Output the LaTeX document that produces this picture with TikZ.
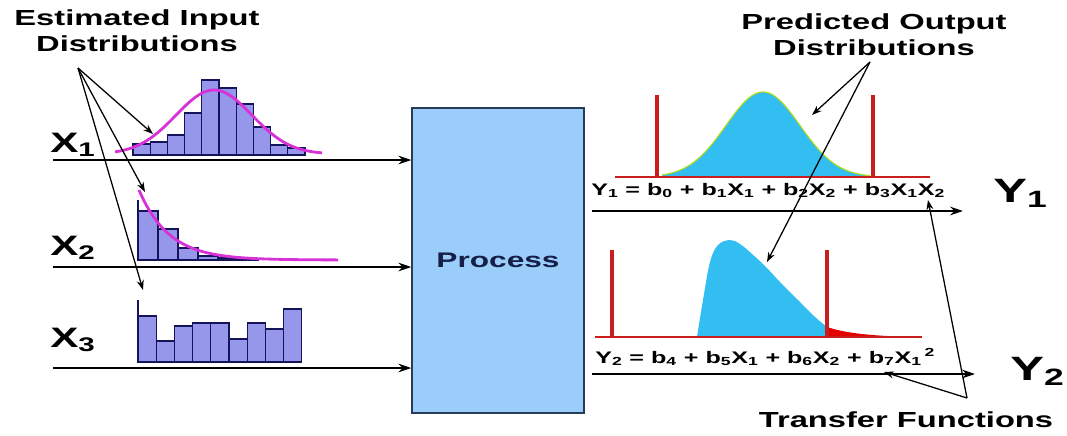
\documentclass[tikz,border=0pt]{standalone}
\usepackage{fontspec}
\newfontfamily\diagfont{Liberation Sans}[FakeStretch=1.5]
\usetikzlibrary{arrows.meta, positioning}
\definecolor{procfill}{RGB}{155,205,250}
\definecolor{procline}{RGB}{40,60,90}
\definecolor{proctext}{RGB}{20,30,70}
\definecolor{barfill}{RGB}{150,150,235}
\definecolor{barline}{RGB}{20,20,90}
\definecolor{curvemag}{RGB}{215,50,215}
\definecolor{outblue}{RGB}{50,190,240}
\definecolor{outred}{RGB}{200,30,30}
\tikzset{
    procbox/.style={
        rectangle,
        draw=procline,
        fill=procfill,
        line width=1pt,
        inner sep=0pt,
        text=proctext,
        font=\diagfont\bfseries\fontsize{15}{18}\selectfont
    },
    flow/.style={
        -{Stealth[length=9pt,width=6pt]},
        line width=1.8pt,
        draw=black
    },
    note/.style={
        -{Stealth[length=7pt,width=5pt]},
        line width=0.9pt,
        draw=black
    },
    bar/.style={
        draw=barline,
        fill=barfill,
        line width=0.9pt
    },
    heading/.style={
        font=\diagfont\bfseries\fontsize{15.5}{18.5}\selectfont,
        align=center,
        inner sep=0pt
    },
    varlabel/.style={
        font=\diagfont\bfseries\fontsize{20}{24}\selectfont,
        inner sep=0pt,
        anchor=base west
    },
    outlabel/.style={
        font=\diagfont\bfseries\fontsize{24}{28}\selectfont,
        inner sep=0pt,
        anchor=base west
    },
    eqn/.style={
        font=\diagfont\bfseries\fontsize{11.9}{14}\selectfont,
        inner sep=0pt,
        anchor=base west
    }
}

\begin{document}
\begin{tikzpicture}[x=0.025cm, y=-0.025cm]
    \useasboundingbox (0,0) rectangle (1067,435);

    % The process block
    \node[procbox, minimum width=4.3cm, minimum height=7.625cm] (process) at (498,260.5) {Process};

    % Input lines
    \coordinate (in1) at (53,160);
    \coordinate (in2) at (53,267);
    \coordinate (in3) at (53,368);
    \foreach \k in {1,2,3} {
        \draw[flow] (in\k) -- (process.west |- in\k);
    }
    \node[varlabel] (x1) at (50,152) {X\textsubscript{1}};
    \node[varlabel] (x2) at (50,255) {X\textsubscript{2}};
    \node[varlabel] (x3) at (50,347) {X\textsubscript{3}};

    % Histogram of X1 with fitted normal curve
    \foreach \h [count=\i from 0] in {11,13,20,42,75,67,51,28,10,7} {
        \draw[bar] ({133+17.2*\i},155) rectangle ++(17.2,-\h);
    }
    \draw[curvemag, line width=2pt] plot[domain=115:322, samples=80]
        (\x,{154-64*exp(-0.5*pow((\x-214)/38,2))});

    % Histogram of X2 with fitted exponential curve
    \foreach \h [count=\i from 0] in {49,31,12,4,2,1} {
        \draw[bar] ({138+20*\i},260) rectangle ++(20,-\h);
    }
    \draw[barline, line width=1.2pt] (138,200) -- (138,260);
    \draw[curvemag, line width=2pt] plot[domain=139:338, samples=80]
        (\x,{260-70*exp(-(\x-139)/30)});

    % Histogram of X3, roughly uniform
    \foreach \h [count=\i from 0] in {46,21,36,39,39,23,39,33,53} {
        \draw[bar] ({138+18.2*\i},362) rectangle ++(18.2,-\h);
    }
    \draw[barline, line width=1.2pt] (138,300) -- (138,362);

    % Input annotation
    \node[heading] (esthead) at (137,31) {Estimated Input\\Distributions};
    \coordinate (estsrc) at (78,68);
    \coordinate (h1tip) at (153,134);
    \coordinate (h2tip) at (145,192);
    \coordinate (h3tip) at (143,290);
    \foreach \t in {h1tip,h2tip,h3tip} {
        \draw[note] (estsrc) -- (\t);
    }

    % Output distribution of Y1
    \fill[outblue] (662,177) -- plot[domain=662:867, samples=80]
        (\x,{177-85*exp(-0.5*pow((\x-763)/37,2))}) -- (867,177) -- cycle;
    \draw[yellow!70!green, line width=0.8pt] plot[domain=662:870, samples=80]
        (\x,{177-85*exp(-0.5*pow((\x-763)/37,2))});
    \draw[outred, line width=1pt] (615,177) -- (930,177);
    \draw[outred, line width=2.6pt] (657,95) -- (657,177);
    \draw[outred, line width=2.6pt] (873,95) -- (873,177);

    % Output distribution of Y2
    \fill[outblue] (697,337) -- plot[smooth, tension=0.6] coordinates {
        (697,337) (703,300) (710,262) (718,245) (730,240) (740,244)
        (752,254) (765,266) (780,282) (800,302) (815,317) (827,327)}
        -- (827,337) -- cycle;
    \fill[red!90!black] (827,337) -- (827,327) .. controls (845,333) and (870,336) .. (915,337) -- cycle;
    \draw[outred, line width=1pt] (595,337) -- (922,337);
    \draw[outred, line width=2.6pt] (612,250) -- (612,337);
    \draw[outred, line width=2.6pt] (827,250) -- (827,337);

    % Output lines and transfer functions
    \coordinate (out1) at (963,211);
    \coordinate (out2) at (975,374);
    \draw[flow, shorten <=5pt] (process.east |- out1) -- (out1);
    \draw[flow, shorten <=5pt] (process.east |- out2) -- (out2);
    \node[eqn] (eq1) at (591,195)
        {Y\textsubscript{1} = b\textsubscript{0} + b\textsubscript{1}X\textsubscript{1} + b\textsubscript{2}X\textsubscript{2} + b\textsubscript{3}X\textsubscript{1}X\textsubscript{2}};
    \node[eqn] (eq2) at (595,363)
        {Y\textsubscript{2} = b\textsubscript{4} + b\textsubscript{5}X\textsubscript{1} + b\textsubscript{6}X\textsubscript{2} + b\textsubscript{7}X\textsubscript{1}\,\textsuperscript{2}};
    \node[outlabel] (y1) at (993,202) {Y\textsubscript{1}};
    \node[outlabel] (y2) at (1010,380) {Y\textsubscript{2}};

    % Output annotation
    \node[heading] (predhead) at (874,35) {Predicted Output\\Distributions};
    \coordinate (predsrc) at (870,62);
    \coordinate (o1tip) at (812,115);
    \coordinate (o2tip) at (767,262);
    \draw[note] (predsrc) -- (o1tip);
    \draw[note] (predsrc) -- (o2tip);

    % Transfer function annotation
    \node[heading] (tfhead) at (906,420) {Transfer Functions};
    \coordinate (tfsrc) at (967,398);
    \coordinate (tf1tip) at (928,200);
    \coordinate (tf2tip) at (884,372);
    \draw[note] (tfsrc) -- (tf1tip);
    \draw[note] (tfsrc) -- (tf2tip);

\end{tikzpicture}
\end{document}
